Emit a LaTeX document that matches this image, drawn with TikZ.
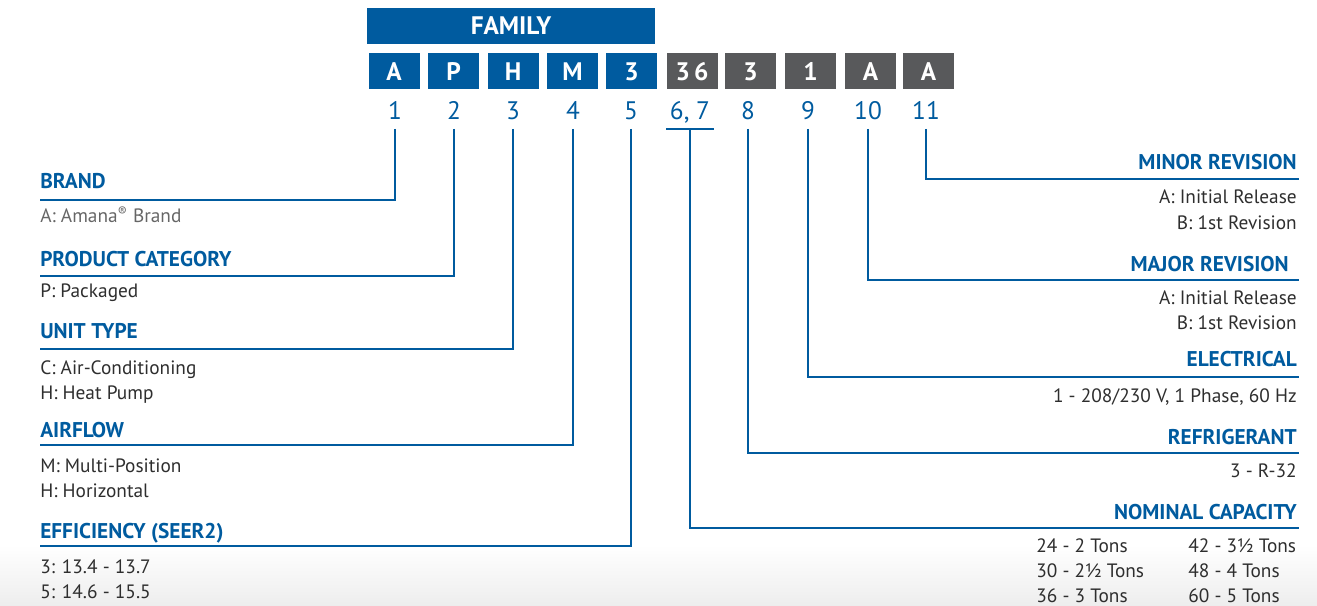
\documentclass[tikz,border=0pt]{standalone}
\usepackage{fontspec}
\setmainfont{PT Sans}
\definecolor{codeblue}{HTML}{005B9F}
\definecolor{codegray}{HTML}{58595B}
\definecolor{bodytext}{HTML}{2E2E2E}

\begin{document}
\begin{tikzpicture}[x=0.75pt, y=-0.75pt,
  bluecell/.style={fill=codeblue, text=white, inner sep=0pt, minimum width=38.25pt, minimum height=27pt, font=\fontsize{19}{22}\selectfont\bfseries},
  graycell/.style={bluecell, fill=codegray},
  digit/.style={text=codeblue, inner xsep=2.5pt, inner ysep=6.5pt, text depth=0pt, font=\fontsize{19}{22}\selectfont},
  head/.style={text=codeblue, inner sep=0pt, font=\fontsize{16}{19}\selectfont\bfseries},
  body/.style={text=bodytext, inner sep=0pt, font=\fontsize{14.5}{17}\selectfont},
  link/.style={draw=codeblue, line width=1.6pt}]
  \useasboundingbox (0,0) rectangle (1317,606);
  \shade[top color=white, bottom color=black!7] (0,545) rectangle (1317,606);

  % model number boxes
  \node[bluecell, minimum width=216pt] (FAM) at (511,26) {FAMILY};
  \node[bluecell] (B1) at (394,71.5) {A};
  \node[bluecell] (B2) at (453.5,71.5) {P};
  \node[bluecell] (B3) at (513,71.5) {H};
  \node[bluecell] (B4) at (572.5,71.5) {M};
  \node[bluecell] (B5) at (631.5,71.5) {3};
  \node[graycell] (B67) at (692,71.5) {3\,6};
  \node[graycell] (B8) at (750.5,71.5) {3};
  \node[graycell] (B9) at (810.5,71.5) {1};
  \node[graycell] (B10) at (870.5,71.5) {A};
  \node[graycell] (B11) at (928.5,71.5) {A};

  % digit positions
  \node[digit, anchor=base] (N1) at (395,120) {1};
  \node[digit, anchor=base] (N2) at (454,120) {2};
  \node[digit, anchor=base] (N3) at (513,120) {3};
  \node[digit, anchor=base] (N4) at (573,120) {4};
  \node[digit, anchor=base] (N5) at (631,120) {5};
  \node[digit, anchor=base] (N67) at (690,120) {6, 7};
  \node[digit, anchor=base] (N8) at (748,120) {8};
  \node[digit, anchor=base] (N9) at (808,120) {9};
  \node[digit, anchor=base] (N10) at (868,120) {10};
  \node[digit, anchor=base] (N11) at (926,120) {11};

  % left side
  \node[head, anchor=base west] (BRAND) at (40,189) {BRAND};
  \coordinate (BRANDL) at (40,200);
  \node[body, anchor=base west, text=black!60] (BRAND1) at (40,223) {A: Amana\textsuperscript{®} Brand};
  \node[head, anchor=base west] (PROD) at (40,266) {PRODUCT CATEGORY};
  \coordinate (PRODL) at (40,276);
  \node[body, anchor=base west] (PROD1) at (40,297) {P: Packaged};
  \node[head, anchor=base west] (UNIT) at (40,338) {UNIT TYPE};
  \coordinate (UNITL) at (40,349);
  \node[body, anchor=base west] (UNIT1) at (40,374) {C: Air-Conditioning};
  \node[body, anchor=base west] (UNIT2) at (40,399) {H: Heat Pump};
  \node[head, anchor=base west] (AIR) at (40,437) {AIRFLOW};
  \coordinate (AIRL) at (40,445);
  \node[body, anchor=base west] (AIR1) at (40,472) {M: Multi-Position};
  \node[body, anchor=base west] (AIR2) at (40,497) {H: Horizontal};
  \node[head, anchor=base west] (EFF) at (40,538) {EFFICIENCY (SEER2)};
  \coordinate (EFFL) at (40,546);
  \node[body, anchor=base west] (EFF1) at (40,573) {3: 13.4 - 13.7};
  \node[body, anchor=base west] (EFF2) at (40,598) {5: 14.6 - 15.5};

  % right side
  \node[head, anchor=base east] (MINOR) at (1297,170) {MINOR REVISION};
  \coordinate (MINORR) at (1299,179);
  \node[body, anchor=base east] (MINOR1) at (1297,204) {A: Initial Release};
  \node[body, anchor=base east] (MINOR2) at (1297,229) {B: 1st Revision};
  \node[head, anchor=base east] (MAJOR) at (1289,271) {MAJOR REVISION};
  \coordinate (MAJORR) at (1299,280);
  \node[body, anchor=base east] (MAJOR1) at (1297,304) {A: Initial Release};
  \node[body, anchor=base east] (MAJOR2) at (1297,329) {B: 1st Revision};
  \node[head, anchor=base east] (ELEC) at (1297,366) {ELECTRICAL};
  \coordinate (ELECR) at (1299,377);
  \node[body, anchor=base east] (ELEC1) at (1297,402) {1 - 208/230 V, 1 Phase, 60 Hz};
  \node[head, anchor=base east] (REFR) at (1297,444) {REFRIGERANT};
  \coordinate (REFRR) at (1299,453);
  \node[body, anchor=base east] (REFR1) at (1297,477) {3 - R-32};
  \node[head, anchor=base east] (CAP) at (1297,519) {NOMINAL CAPACITY};
  \coordinate (CAPR) at (1299,528);
  \node[body, anchor=base west] (CAP1) at (1036,552) {24 - 2 Tons};
  \node[body, anchor=base west] (CAP2) at (1036,577) {30 - 2½ Tons};
  \node[body, anchor=base west] (CAP3) at (1036,602) {36 - 3 Tons};
  \node[body, anchor=base west] (CAP4) at (1188,552) {42 - 3½ Tons};
  \node[body, anchor=base west] (CAP5) at (1188,577) {48 - 4 Tons};
  \node[body, anchor=base west] (CAP6) at (1188,602) {60 - 5 Tons};

  % connectors
  \draw[link] (N1.south) |- (BRANDL);
  \draw[link] (N2.south) |- (PRODL);
  \draw[link] (N3.south) |- (UNITL);
  \draw[link] (N4.south) |- (AIRL);
  \draw[link] (N5.south) |- (EFFL);
  \draw[link] (N67.south west) -- (N67.south east);
  \draw[link] (N67.south) |- (CAPR);
  \draw[link] (N8.south) |- (REFRR);
  \draw[link] (N9.south) |- (ELECR);
  \draw[link] (N10.south) |- (MAJORR);
  \draw[link] (N11.south) |- (MINORR);
\end{tikzpicture}
\end{document}
